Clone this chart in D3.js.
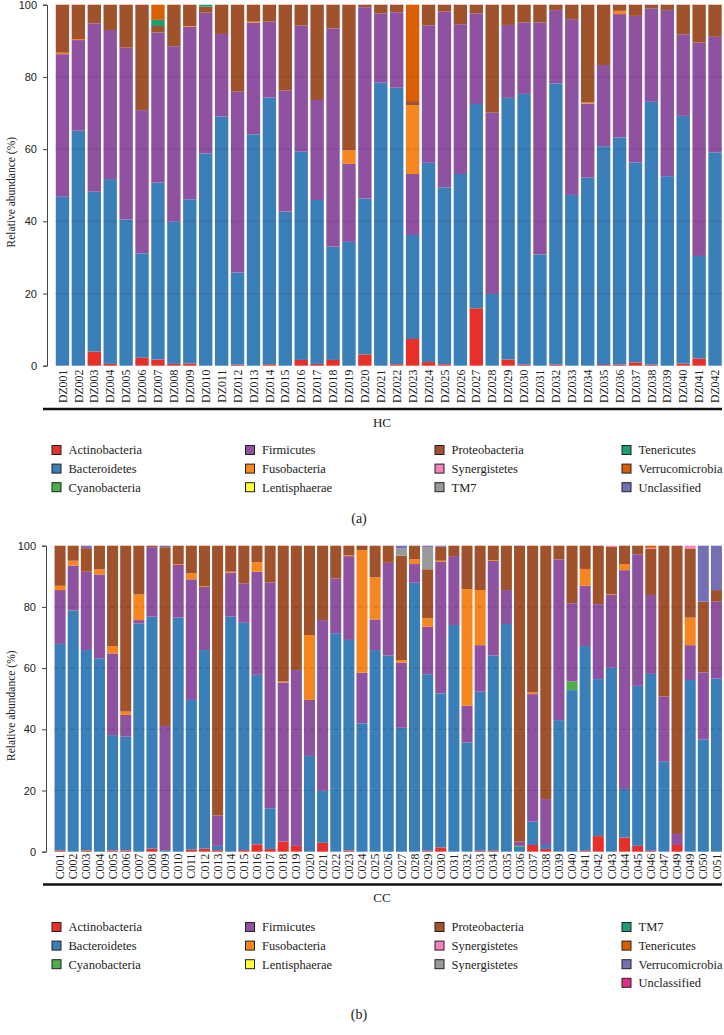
<!DOCTYPE html>
<html>
<head>
<meta charset="utf-8">
<script src="https://cdn.jsdelivr.net/npm/d3@7"></script>
<style>
  body { margin: 0; background: #fff; }
  svg { display: block; }
</style>
</head>
<body>
<svg id="chart" width="724" height="1035"></svg>
<script>
// ---- panel (a): HC samples ----
const hcLabels = ['DZ001','DZ002','DZ003','DZ004','DZ005','DZ006','DZ007','DZ008','DZ009','DZ010',
  'DZ011','DZ012','DZ013','DZ014','DZ015','DZ016','DZ017','DZ018','DZ019','DZ020',
  'DZ021','DZ022','DZ023','DZ024','DZ025','DZ026','DZ027','DZ028','DZ029','DZ030',
  'DZ031','DZ032','DZ033','DZ034','DZ035','DZ036','DZ037','DZ038','DZ039','DZ040',
  'DZ041','DZ042'];

const hcKeys = ['Actinobacteria','Bacteroidetes','Cyanobacteria','Firmicutes','Fusobacteria','Lentisphaerae',
  'Proteobacteria','Synergistetes','TM7','Tenericutes','Verrucomicrobia','Unclassified'];
const hcColors = ['#e8302a','#3a7fb8','#4daf4a','#8e52a1','#f6861f','#ffff33',
  '#a0522d','#f781bf','#999999','#1b9e77','#d95f02','#7570b3'];

const hcActino = [0,0,3.9,0.5,0,2.2,1.7,0.5,0.6,0, 0,0.3,0,0.4,0,1.6,0.5,1.6,0,3.1,
  0,0.4,7.4,1.0,0.4,0,15.9,0,1.7,0.3, 0,0.3,0,0,0.2,0.3,0.9,0.3,0,0.6, 2.0,0];
const hcBactero = [46.8,65.1,44.3,51.2,40.5,28.9,49.0,39.4,45.5,58.8, 69.0,25.5,64.1,73.9,42.7,57.7,45.4,31.4,34.3,43.2,
  78.4,76.6,28.8,55.2,49.0,53.1,56.6,19.9,72.5,75.0, 30.8,77.9,47.3,52.1,60.6,62.9,55.4,72.8,52.5,68.6, 28.4,59.1];
const hcCyano = [0,0,0,0,0,0,0,0,0,0, 0,0,0,0,0,0,0,0,0,0, 0,0,0,0,0,0,0,0,0,0, 0,0,0,0,0,0,0,0,0,0, 0,0];
const hcFirmi = [39.5,25.1,46.6,41.3,47.6,39.7,41.6,48.6,47.8,39.0, 22.9,50.1,30.9,21.0,33.5,34.9,27.7,60.4,21.6,53.0,
  19.2,20.9,16.9,38.1,48.7,41.5,25.1,50.2,20.2,19.8, 64.3,20.3,48.7,20.5,22.5,34.2,40.6,25.9,46.0,22.6, 59.1,32.0];
const hcFuso = [0.4,0.3,0,0,0,0,0,0,0.2,0, 0,0,0.3,0,0,0,0,0,3.8,0,
  0,0,19.1,0,0,0,0,0,0,0, 0,0,0,0.3,0,0.9,0,0,0,0, 0,0];
const hcLentis = [0,0,0,0,0,0,0,0,0,0, 0,0,0,0,0,0,0,0,0,0, 0,0,0,0,0,0,0,0,0,0, 0,0,0,0,0,0,0,0,0,0, 0,0];
const hcProteo = [13.3,9.5,5.2,7.0,11.9,29.2,1.8,11.5,5.9,1.7, 8.1,24.1,4.7,4.7,23.8,5.8,26.4,6.6,40.3,0.7,
  2.4,2.1,1.1,5.7,1.9,5.4,2.4,29.9,5.6,4.9, 4.9,1.5,4.0,27.1,16.7,1.7,3.1,1.0,1.5,8.2, 10.5,8.9];
const hcSynerg = [0,0,0,0,0,0,0,0,0,0, 0,0,0,0,0,0,0,0,0,0, 0,0,0,0,0,0,0,0,0,0, 0,0,0,0,0,0,0,0,0,0, 0,0];
const hcTM7 = [0,0,0,0,0,0,0,0,0,0, 0,0,0,0,0,0,0,0,0,0, 0,0,0,0,0,0,0,0,0,0, 0,0,0,0,0,0,0,0,0,0, 0,0];
const hcTeneri = [0,0,0,0,0,0,1.7,0,0,0.5, 0,0,0,0,0,0,0,0,0,0, 0,0,0,0,0,0,0,0,0,0, 0,0,0,0,0,0,0,0,0,0, 0,0];
const hcVerruco = [0,0,0,0,0,0,4.2,0,0,0, 0,0,0,0,0,0,0,0,0,0, 0,0,26.7,0,0,0,0,0,0,0, 0,0,0,0,0,0,0,0,0,0, 0,0];
const hcUnclass = [0,0,0,0,0,0,0,0,0,0, 0,0,0,0,0,0,0,0,0,0, 0,0,0,0,0,0,0,0,0,0, 0,0,0,0,0,0,0,0,0,0, 0,0];

// ---- panel (b): CC samples (the figure labels the 48th bar C049 as well) ----
const ccLabels = ['C001','C002','C003','C004','C005','C006','C007','C008','C009','C010',
  'C011','C012','C013','C014','C015','C016','C017','C018','C019','C020',
  'C021','C022','C023','C024','C025','C026','C027','C028','C029','C030',
  'C031','C032','C033','C034','C035','C036','C037','C038','C039','C040',
  'C041','C042','C043','C044','C045','C046','C047','C049','C049','C050','C051'];

const ccKeys = ['Actinobacteria','Bacteroidetes','Cyanobacteria','Firmicutes','Fusobacteria','Lentisphaerae',
  'Proteobacteria','Synergistetes','Synergistetes2','TM7','Tenericutes','Verrucomicrobia','Unclassified'];
const ccNames = ['Actinobacteria','Bacteroidetes','Cyanobacteria','Firmicutes','Fusobacteria','Lentisphaerae',
  'Proteobacteria','Synergistetes','Synergistetes','TM7','Tenericutes','Verrucomicrobia','Unclassified'];
const ccColors = ['#e8302a','#3a7fb8','#4daf4a','#8e52a1','#f6861f','#ffff33',
  '#a0522d','#f781bf','#999999','#1b9e77','#d95f02','#7570b3','#e7298a'];

const ccActino = [0.4,0,0.4,0,0.4,0.4,0,1.0,0,0, 0.7,1.0,0.5,0,0.5,2.4,0.9,3.3,1.9,0,
  2.9,0,0.4,0,0,0,0,0,0.3,1.4, 0,0,0.3,0.3,0,0,2.2,0.9,0,0, 0.3,5.1,0,4.6,1.9,0.3,0,2.2,0,0, 0];
const ccBactero = [67.5,78.8,65.5,63.2,37.7,37.2,74.6,75.8,0.5,76.5, 48.9,64.9,1.4,76.8,74.3,55.4,13.3,0,0,31.3,
  17.0,71.4,68.8,41.9,65.9,64.1,40.5,87.9,57.7,50.3, 74.1,35.7,52.0,63.8,74.4,1.6,7.6,1.3,43.0,52.8,
  66.9,51.3,60.1,15.9,52.3,57.8,29.4,0,56.1,36.7, 56.6];
const ccCyano = [0,0,0,0,0,0,0,0,0,0, 0,0,0,0,0,0,0,0,0,0, 0,0,0,0,0,0,0,0,0,0,
  0,0,0,0,0,0.3,0,0,0,2.8, 0,0,0,0,0,0,0,0,0,0, 0];
const ccFirmi = [17.6,14.7,25.6,27.4,26.7,7.1,1.1,22.7,40.6,17.2, 39.4,20.6,9.9,14.4,12.9,33.7,73.8,52.0,57.5,18.3,
  55.8,17.9,27.4,16.6,10.0,30.3,21.3,6.1,15.5,43.0, 22.5,12.0,15.2,30.9,11.1,1.4,41.7,15.0,52.5,25.6,
  19.7,24.5,23.8,71.5,43.0,25.8,21.3,3.6,11.4,21.9, 25.1];
const ccFuso = [1.4,1.6,0,1.7,2.4,1.1,8.4,0,0,0.3, 2.0,0.3,0,0.3,0,3.1,0,0.3,0,21.2,
  0,0,0.3,40.1,13.8,0,0.8,1.6,2.8,0.4, 0,38.1,18.0,0.3,0,0,0.6,0,0,0,
  5.5,0,0.2,2.0,0,0,0,0,9.0,0, 0];
const ccLentis = [0,0,0,0,0,0,0,0,0,0, 0,0,0,0,0,0,0,0,0,0, 0,0,0,0,0,0,0,0,0,0,
  0,0,0,0,0,0,0,0,0,0, 0,0,0,0,0,0,0,0,0,0, 0];
const ccProteo = [13.1,4.9,7.7,7.7,32.8,54.2,15.9,0.5,58.4,6.0, 9.0,13.2,88.2,8.5,12.3,5.4,12.0,44.4,40.6,29.2,
  24.3,10.7,3.1,1.4,10.3,5.6,34.1,4.4,16.0,4.6, 3.4,14.2,14.5,4.7,14.5,96.7,47.9,82.8,4.5,18.8,
  7.6,19.1,15.6,6.0,2.8,15.1,49.3,94.2,22.6,23.1, 3.8];
const ccSynerg = [0,0,0,0,0,0,0,0,0,0, 0,0,0,0,0,0,0,0,0,0, 0,0,0,0,0,0,0,0,0,0,
  0,0,0,0,0,0,0,0,0,0, 0,0,0.3,0,0,0.3,0,0,0.9,0, 0];
const ccSynerg2 = [0,0,0,0,0,0,0,0,0,0, 0,0,0,0,0,0,0,0,0,0, 0,0,0,0,0,0,2.4,0,7.2,0,
  0,0,0,0,0,0,0,0,0,0, 0,0,0,0,0,0,0,0,0,0, 0];
const ccTM7 = [0,0,0,0,0,0,0,0,0,0, 0,0,0,0,0,0,0,0,0,0, 0,0,0,0,0,0,0,0,0,0,
  0,0,0,0,0,0,0,0,0,0, 0,0,0,0,0,0,0,0,0,0, 0];
const ccTeneri = [0,0,0,0,0,0,0,0,0,0, 0,0,0,0,0,0,0,0,0,0, 0,0,0,0,0,0,0,0,0,0,
  0,0,0,0,0,0,0,0,0,0, 0,0,0,0,0,0.7,0,0,0,0, 0];
const ccVerruco = [0,0,0.8,0,0,0,0,0,0.5,0, 0,0,0,0,0,0,0,0,0,0, 0,0,0,0,0,0,0.9,0,0.5,0.3,
  0,0,0,0,0,0,0,0,0,0, 0,0,0,0,0,0,0,0,0,18.3, 14.5];
const ccUnclass = [0,0,0,0,0,0,0,0,0,0, 0,0,0,0,0,0,0,0,0,0, 0,0,0,0,0,0,0,0,0,0,
  0,0,0,0,0,0,0,0,0,0, 0,0,0,0,0,0,0,0,0,0, 0];

const yTicks = [0, 20, 40, 60, 80, 100];

const serif = '"Liberation Serif", "DejaVu Serif", serif';
const sans = '"Liberation Sans", Arial, sans-serif';
const svg = d3.select('#chart');

function drawPanel(cfg) {
  const n = cfg.labels.length;
  const rows = cfg.labels.map((l, i) => {
    const r = {};
    cfg.keys.forEach((k, j) => { r[k] = cfg.series[j][i]; });
    return r;
  });
  const stacked = d3.stack().keys(cfg.keys)(rows);

  const x = d3.scaleBand().domain(d3.range(n))
    .range([cfg.xLeft, cfg.xRight]).paddingInner(0.16).paddingOuter(0.08);
  const y = d3.scaleLinear().domain([0, 100]).range([cfg.yBottom, cfg.yTop]);

  const g = svg.append('g');

  g.append('g').selectAll('g')
    .data(stacked)
    .join('g')
    .attr('fill', (d, i) => cfg.colors[i])
    .selectAll('rect')
    .data(d => d.map((s, i) => ({ s: s, i: i })).filter(o => o.s[1] - o.s[0] > 0))
    .join('rect')
    .attr('x', o => x(o.i))
    .attr('y', o => y(o.s[1]))
    .attr('width', x.bandwidth())
    .attr('height', o => y(o.s[0]) - y(o.s[1]));

  // faint dashed grid over the bars
  g.append('g').selectAll('line')
    .data(yTicks.filter(t => t > 0 && t < 100))
    .join('line')
    .attr('x1', cfg.xLeft).attr('x2', cfg.xRight)
    .attr('y1', d => y(d)).attr('y2', d => y(d))
    .attr('stroke', '#000').attr('stroke-opacity', 0.14)
    .attr('stroke-dasharray', '5,3');

  const ya = g.append('g')
    .attr('transform', `translate(${cfg.axisX},0)`)
    .call(d3.axisLeft(y).tickValues(yTicks).tickSize(4).tickPadding(6));
  ya.select('.domain').attr('stroke', '#444');
  ya.selectAll('.tick line').attr('stroke', '#444');
  ya.selectAll('text').attr('font-family', sans).attr('font-size', 11).attr('fill', '#222');

  g.append('text')
    .attr('transform', `translate(11,${(cfg.yTop + cfg.yBottom) / 2 + 7}) rotate(-90)`)
    .attr('text-anchor', 'middle').attr('dy', '0.35em')
    .attr('font-family', serif).attr('font-size', 11.5).attr('fill', '#222')
    .text('Relative abundance (%)');

  const xa = g.append('g')
    .attr('transform', `translate(0,${cfg.yBottom})`)
    .call(d3.axisBottom(x).tickFormat(i => cfg.labels[i]).tickSize(0));
  xa.select('.domain').remove();
  xa.selectAll('text')
    .attr('transform', 'rotate(-90)')
    .attr('text-anchor', 'end')
    .attr('x', -cfg.labelGap).attr('y', 0).attr('dy', '0.35em')
    .attr('font-family', serif).attr('font-size', cfg.labelSize).attr('fill', '#222');

  // group bracket
  g.append('line')
    .attr('x1', 43).attr('x2', 722)
    .attr('y1', cfg.groupY).attr('y2', cfg.groupY)
    .attr('stroke', '#111').attr('stroke-width', 2.5);
  g.append('text')
    .attr('x', 382).attr('y', cfg.groupY + 13).attr('dy', '0.35em')
    .attr('text-anchor', 'middle')
    .attr('font-family', serif).attr('font-size', 13).attr('fill', '#222')
    .text(cfg.group);

  // legend, filled column by column, 3 per column, rest in the last one
  const colX = [52, 245.5, 435, 622];
  const leg = g.append('g').selectAll('g')
    .data(cfg.names)
    .join('g')
    .attr('transform', (d, i) => {
      const c = Math.min(Math.floor(i / 3), 3);
      const r = i - c * 3;
      return `translate(${colX[c]},${cfg.legendY + r * 18.6})`;
    });
  leg.append('rect')
    .attr('x', 0).attr('y', -4.5).attr('width', 9).attr('height', 9)
    .attr('fill', (d, i) => cfg.colors[i])
    .attr('stroke', '#222').attr('stroke-width', 1);
  leg.append('text')
    .attr('x', 16.5).attr('y', 0).attr('dy', '0.35em')
    .attr('font-family', serif).attr('font-size', 12.5).attr('fill', '#222')
    .text(d => d);

  g.append('text')
    .attr('x', 359).attr('y', cfg.tagY).attr('dy', '0.35em')
    .attr('text-anchor', 'middle')
    .attr('font-family', serif).attr('font-size', 14).attr('fill', '#222')
    .text(cfg.tag);
}

drawPanel({
  labels: hcLabels,
  keys: hcKeys,
  names: hcKeys,
  colors: hcColors,
  series: [hcActino, hcBactero, hcCyano, hcFirmi, hcFuso, hcLentis,
    hcProteo, hcSynerg, hcTM7, hcTeneri, hcVerruco, hcUnclass],
  xLeft: 54.5, xRight: 723,
  yTop: 4.7, yBottom: 365.7,
  axisX: 47,
  labelGap: 4, labelSize: 11.8,
  groupY: 409, group: 'HC',
  legendY: 450,
  tagY: 518, tag: '(a)'
});

drawPanel({
  labels: ccLabels,
  keys: ccKeys,
  names: ccNames,
  colors: ccColors,
  series: [ccActino, ccBactero, ccCyano, ccFirmi, ccFuso, ccLentis,
    ccProteo, ccSynerg, ccSynerg2, ccTM7, ccTeneri, ccVerruco, ccUnclass],
  xLeft: 53.5, xRight: 723,
  yTop: 545.7, yBottom: 851.7,
  axisX: 46,
  labelGap: 2, labelSize: 11.8,
  groupY: 884.5, group: 'CC',
  legendY: 927,
  tagY: 1014, tag: '(b)'
});
</script>
</body>
</html>
